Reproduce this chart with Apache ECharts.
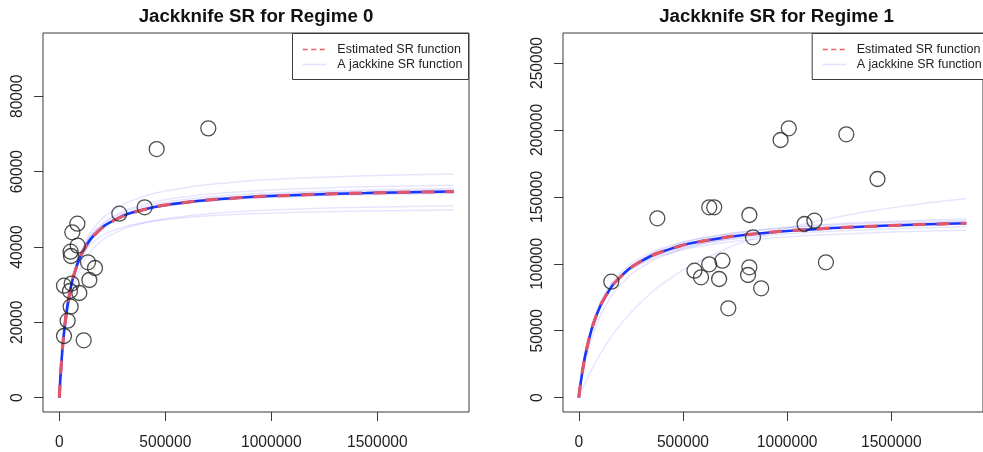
<!DOCTYPE html>
<html>
<head>
<meta charset="utf-8">
<script src="https://cdn.jsdelivr.net/npm/echarts@6/dist/echarts.min.js"></script>
<style>html,body{margin:0;padding:0;background:#fff;}#c{width:983px;height:452px;}</style>
</head>
<body>
<div id="c"></div>
<script>
// ---- Regime 0 ----
const S0 = [0, 10000, 25000, 50000, 80000, 120000, 180000, 260000, 380000, 550000, 800000, 1100000, 1450000, 1860000];
const est0 = [0, 9367, 18733, 28100, 34585, 39671, 43983, 47135, 49665, 51517, 52894, 53757, 54327, 54729];
const jk0a = [0, 8884, 18244, 28119, 35281, 41095, 46167, 49962, 53061, 55361, 57090, 58179, 58903, 59415];
const jk0b = [0, 9355, 18831, 28431, 35152, 40465, 45000, 48333, 51019, 52990, 54460, 55382, 55992, 56423];
const jk0c = [0, 9661, 19257, 28788, 35349, 40473, 44803, 47961, 50490, 52337, 53710, 54569, 55137, 55537];
const jk0d = [0, 9929, 19577, 28958, 35302, 40193, 44283, 47242, 49596, 51309, 52577, 53368, 53890, 54258];
const jk0e = [0, 8875, 17975, 27308, 33910, 39172, 43692, 47032, 49733, 51722, 53208, 54142, 54761, 55197];
const jk0f = [0, 8452, 17013, 25686, 31758, 36558, 40655, 43667, 46093, 47874, 49202, 50035, 50586, 50975];
const jk0g = [0, 10809, 20484, 29195, 34735, 38828, 42138, 44471, 46293, 47598, 48554, 49147, 49536, 49809];
const jk0h = [0, 9246, 18553, 27921, 34443, 39579, 43948, 47151, 49726, 51614, 53020, 53901, 54484, 54895];
const pts0S = [702700, 459200, 283000, 402500, 85000, 61300, 86600, 53300, 55000, 135200, 168200, 141600, 22000, 58000, 50300, 94300, 53300, 39100, 22000, 115000];
const pts0R = [71500, 66000, 48850, 50540, 46200, 43900, 40350, 38760, 37610, 35930, 34430, 31240, 29730, 30300, 28320, 27790, 24160, 20440, 16370, 15230];

// ---- Regime 1 ----
const S1 = [0, 15000, 40000, 80000, 130000, 200000, 300000, 430000, 600000, 850000, 1150000, 1500000, 1860000];
const est1 = [0, 17200, 37959, 59503, 76119, 90230, 101926, 110594, 117106, 122472, 126087, 128598, 130247];
const jk1a = [0, 5595, 14216, 26432, 39483, 54572, 71483, 87965, 103581, 119343, 131909, 141780, 148864];
const jk1b = [0, 14100, 32229, 52465, 69170, 84179, 97241, 107310, 115102, 121675, 126187, 129358, 131459];
const jk1c = [0, 18196, 39857, 62000, 78848, 93000, 104625, 113179, 119571, 124816, 128340, 130781, 132383];
const jk1d = [0, 17543, 38429, 59778, 76022, 89667, 100875, 109123, 115286, 120342, 123740, 126094, 127638];
const jk1e = [0, 17932, 38963, 60114, 75978, 89153, 99873, 107705, 113525, 118280, 121466, 123668, 125110];
const jk1f = [0, 16713, 37237, 58958, 76012, 90705, 103034, 112260, 119242, 125026, 128943, 131669, 133463];
const pts1S = [156200, 377000, 555300, 586700, 626200, 626200, 650000, 689300, 673600, 717700, 818700, 836000, 818700, 812400, 875400, 968500, 1007800, 1083500, 1130800, 1284000, 1433600, 1186100];
const pts1R = [86630, 134000, 94870, 89900, 99620, 142200, 142200, 102340, 88650, 66750, 136450, 119800, 97390, 91640, 81690, 192480, 201200, 129730, 132220, 196700, 163340, 101120];

// ---- ticks & text ----
const xTicks = [0, 500000, 1000000, 1500000];
const yTicks0 = [0, 20000, 40000, 60000, 80000];
const yTicks1 = [0, 50000, 100000, 150000, 200000, 250000];
const titles = ['Jackknife SR for Regime 0', 'Jackknife SR for Regime 1'];
const legendNames = ['Estimated SR function', 'A jackkine SR function'];

const FONT = "'Liberation Sans', Arial, Helvetica, sans-serif";
const BOX = '#3a3a3a';
const pair = (xs, ys) => xs.map((x, i) => [x, ys[i]]);

function xAxis(idx, min, max) {
  return {
    type: 'value', gridIndex: idx, min: min, max: max,
    splitLine: { show: false },
    axisLine: { show: false, onZero: false },
    axisTick: { show: true, length: 9, lineStyle: { color: BOX, width: 1 }, customValues: xTicks },
    axisLabel: { show: true, margin: 23, fontSize: 15.6, fontFamily: FONT, color: '#222', customValues: xTicks, formatter: v => String(v) }
  };
}
function yAxis(idx, min, max, ticks) {
  return {
    type: 'value', gridIndex: idx, min: min, max: max,
    splitLine: { show: false },
    axisLine: { show: false, onZero: false },
    axisTick: { show: true, length: 9, lineStyle: { color: BOX, width: 1 }, customValues: ticks },
    axisLabel: { show: true, rotate: 90, margin: 17, fontSize: 15.6, fontFamily: FONT, color: '#222', customValues: ticks, formatter: v => String(v) }
  };
}

const JK = { color: 'rgba(0,0,255,0.1)', width: 1.5 };
function jkSeries(idx, xs, ys) {
  return { type: 'line', xAxisIndex: idx, yAxisIndex: idx, data: pair(xs, ys), showSymbol: false, symbol: 'none', smooth: 0.5, lineStyle: JK, silent: true, z: 2 };
}
function mainSeries(idx, xs, ys) {
  return [
    { type: 'line', xAxisIndex: idx, yAxisIndex: idx, data: pair(xs, ys), symbol: 'none', smooth: 0.5, lineStyle: { color: '#1636ff', width: 2.6 }, z: 3 },
    { type: 'line', xAxisIndex: idx, yAxisIndex: idx, data: pair(xs, ys), symbol: 'none', smooth: 0.5, lineStyle: { color: '#e0566b', width: 3.2, type: [13, 11] }, z: 4 }
  ];
}
function ptsSeries(idx, xs, ys) {
  return { type: 'scatter', xAxisIndex: idx, yAxisIndex: idx, data: pair(xs, ys), symbol: 'circle', symbolSize: 15,
    itemStyle: { color: 'rgba(0,0,0,0)', borderColor: '#222', borderWidth: 1.3 }, z: 5 };
}

function legendGraphic(bx, tx, lx) {
  return [
    { type: 'rect', shape: { x: bx + 0.5, y: 33.5, width: 176, height: 46 }, style: { fill: '#fff', stroke: BOX, lineWidth: 1 }, z: 100 },
    { type: 'line', shape: { x1: lx, y1: 49.5, x2: lx + 24, y2: 49.5 }, style: { stroke: '#ee5e5e', lineWidth: 1.5, lineDash: [5, 3.5] }, z: 101 },
    { type: 'line', shape: { x1: lx, y1: 64.5, x2: lx + 24, y2: 64.5 }, style: { stroke: 'rgba(0,0,255,0.12)', lineWidth: 1.5 }, z: 101 },
    { type: 'text', x: tx, y: 49.5, style: { text: legendNames[0], font: '12.5px ' + FONT, fill: '#222', textVerticalAlign: 'middle' }, z: 101 },
    { type: 'text', x: tx, y: 64.5, style: { text: legendNames[1], font: '12.5px ' + FONT, fill: '#222', textVerticalAlign: 'middle' }, z: 101 }
  ];
}

const chart = echarts.init(document.getElementById('c'), null, { renderer: 'canvas' });
chart.setOption({
  backgroundColor: '#fff',
  animation: false,
  grid: [
    { left: 43, top: 33, width: 426, height: 379, show: true, borderColor: BOX, borderWidth: 1, backgroundColor: 'transparent' },
    { left: 563, top: 33, width: 426, height: 379, show: true, borderColor: BOX, borderWidth: 1, backgroundColor: 'transparent' }
  ],
  xAxis: [xAxis(0, -77000, 1932400), xAxis(1, -75700, 1940000)],
  yAxis: [yAxis(0, -3805, 96819, yTicks0), yAxis(1, -10705, 272408, yTicks1)],
  series: [
    jkSeries(0, S0, jk0a), jkSeries(0, S0, jk0b), jkSeries(0, S0, jk0c), jkSeries(0, S0, jk0d),
    jkSeries(0, S0, jk0e), jkSeries(0, S0, jk0f), jkSeries(0, S0, jk0g), jkSeries(0, S0, jk0h),
    ...mainSeries(0, S0, est0),
    ptsSeries(0, pts0S, pts0R),
    jkSeries(1, S1, jk1a), jkSeries(1, S1, jk1b), jkSeries(1, S1, jk1c), jkSeries(1, S1, jk1d),
    jkSeries(1, S1, jk1e), jkSeries(1, S1, jk1f),
    ...mainSeries(1, S1, est1),
    ptsSeries(1, pts1S, pts1R)
  ],
  graphic: [
    { type: 'text', x: 256, y: 16.5, style: { text: titles[0], font: 'bold 18.7px ' + FONT, fill: '#111', textAlign: 'center', textVerticalAlign: 'middle' }, z: 100 },
    { type: 'text', x: 776.5, y: 16.5, style: { text: titles[1], font: 'bold 18.7px ' + FONT, fill: '#111', textAlign: 'center', textVerticalAlign: 'middle' }, z: 100 },
    ...legendGraphic(292, 337.3, 302.7),
    ...legendGraphic(811.7, 856.7, 822.7)
  ]
});
</script>
</body>
</html>
